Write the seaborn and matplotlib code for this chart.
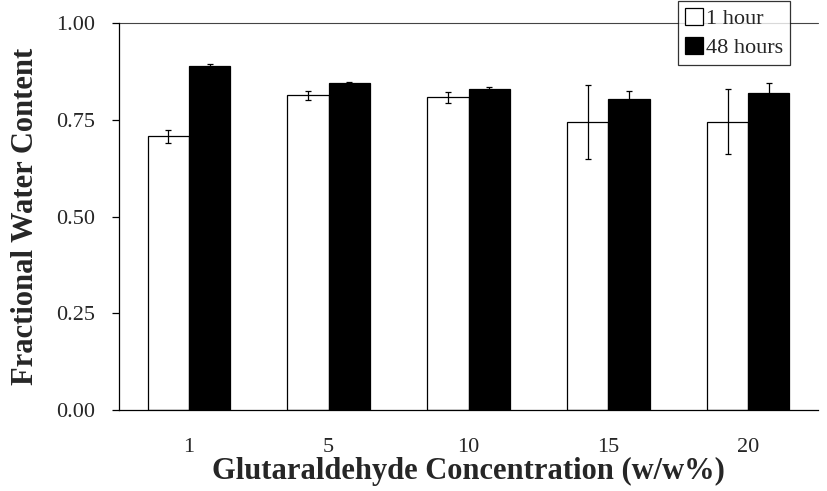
import numpy as np
import pandas as pd
import matplotlib
matplotlib.use("Agg")
import matplotlib.pyplot as plt
import seaborn as sns
from matplotlib.patches import Patch

# --- Data ---
concentrations = ["1", "5", "10", "15", "20"]
series_names = ["1 hour", "48 hours"]
water_1h = [0.707, 0.813, 0.808, 0.744, 0.745]
err_1h = [0.017, 0.012, 0.015, 0.095, 0.084]
water_48h = [0.890, 0.845, 0.829, 0.804, 0.820]
err_48h = [0.003, 0.003, 0.005, 0.021, 0.026]

df = pd.DataFrame({
    "conc": concentrations * 2,
    "time": [series_names[0]] * 5 + [series_names[1]] * 5,
    "water": water_1h + water_48h,
})

sns.set_theme(style="white")
plt.rcParams["font.family"] = ["Liberation Serif", "DejaVu Serif"]

fig = plt.figure(figsize=(8.28, 4.91), dpi=100)
ax = fig.add_axes([0.1437, 0.165, 0.8443, 0.788])

sns.barplot(data=df, x="conc", y="water", hue="time", order=concentrations,
            hue_order=series_names, palette=["white", "black"], width=0.59,
            edgecolor="black", linewidth=0.9, errorbar=None, legend=False, ax=ax)

# --- Error bars placed on bar centres ---
errs = err_1h + err_48h
for patch, e in zip(ax.patches, errs):
    xc = patch.get_x() + patch.get_width() / 2
    ax.errorbar(xc, patch.get_height(), yerr=e, fmt="none", ecolor="black",
                elinewidth=0.9, capsize=2, capthick=0.9)

ax.set_ylim(0, 1.0)
ax.set_xlim(-0.5, len(concentrations) - 0.5)
ax.set_yticks([0, 0.25, 0.5, 0.75, 1.0])
ax.set_yticklabels(["0.00", "0.25", "0.50", "0.75", "1.00"], fontsize=16)
ax.set_xticks(range(len(concentrations)))
ax.set_xticklabels(concentrations, fontsize=16)
ax.set_xticks(np.arange(-0.5, len(concentrations)), minor=True)
ax.tick_params(axis="x", which="major", length=0, pad=20)
ax.tick_params(axis="x", which="minor", length=5, width=0.9, color="black", direction="out")
ax.tick_params(axis="y", length=5, width=0.9, color="black", direction="out", left=True, pad=12)

for side in ["top", "right"]:
    ax.spines[side].set_visible(False)
for side in ["left", "bottom"]:
    ax.spines[side].set_color("black")
    ax.spines[side].set_linewidth(0.9)

ax.axhline(1.0, color="#444444", lw=0.8, zorder=0, clip_on=False)

ax.set_xlabel("Glutaraldehyde Concentration (w/w%)", fontsize=22, fontweight="bold", labelpad=0)
ax.set_ylabel("Fractional Water Content", fontsize=22, fontweight="bold", labelpad=12)

handles = [Patch(facecolor="white", edgecolor="black", lw=0.9, label=series_names[0]),
           Patch(facecolor="black", edgecolor="black", lw=0.9, label=series_names[1])]
leg = fig.legend(handles=handles, loc="upper right", bbox_to_anchor=(0.954, 0.997),
                 fontsize=16, frameon=True, fancybox=False, edgecolor="black",
                 handlelength=0.8, handleheight=0.8, handletextpad=0.15,
                 borderpad=0.3, labelspacing=0.35, borderaxespad=0)
leg.get_frame().set_linewidth(0.9)

fig.savefig("out.png", dpi=100)
